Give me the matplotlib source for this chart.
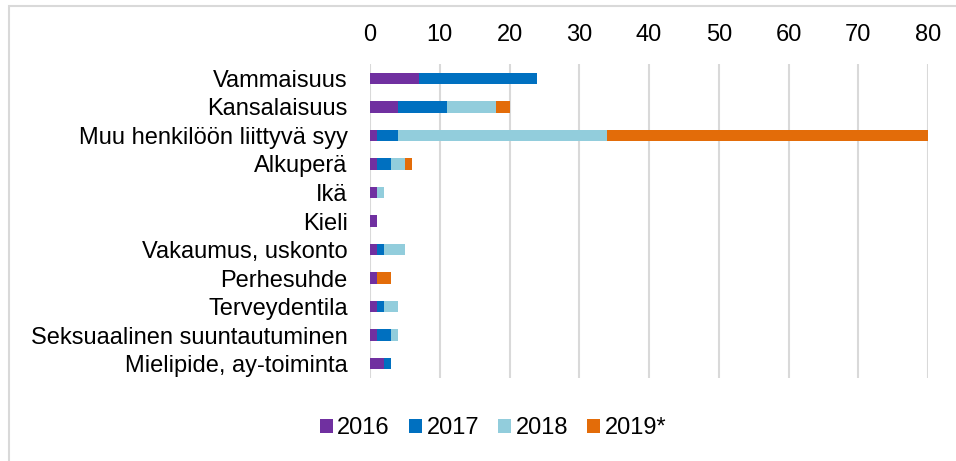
import matplotlib
matplotlib.use('Agg')
import matplotlib.pyplot as plt
from matplotlib.patches import Rectangle
import numpy as np

# Categories (top to bottom) and yearly counts
categories = ['Vammaisuus', 'Kansalaisuus', 'Muu henkilöön liittyvä syy', 'Alkuperä',
              'Ikä', 'Kieli', 'Vakaumus, uskonto', 'Perhesuhde', 'Terveydentila',
              'Seksuaalinen suuntautuminen', 'Mielipide, ay-toiminta']
years = ['2016', '2017', '2018', '2019*']
v2016 = [7, 4, 1, 1, 1, 1, 1, 1, 1, 1, 2]
v2017 = [17, 7, 3, 2, 0, 0, 1, 0, 1, 2, 1]
v2018 = [0, 7, 30, 2, 1, 0, 3, 0, 2, 1, 0]
v2019 = [0, 2, 46, 1, 0, 0, 0, 2, 0, 0, 0]
colors = ['#7030A0', '#0070C0', '#92CDDC', '#E36C09']

plt.rcParams['font.family'] = ['Liberation Sans', 'DejaVu Sans']

fig = plt.figure(figsize=(9.56, 4.61), dpi=100)
ax = fig.add_axes([370 / 956, (461 - 378) / 461, 558 / 956, 314 / 461])

y = np.arange(len(categories))
left = np.zeros(len(categories))
for vals, lab, col in zip([v2016, v2017, v2018, v2019], years, colors):
    ax.barh(y, vals, left=left, height=0.4, color=col, label=lab, zorder=3)
    left += np.array(vals)

ax.set_xlim(0, 80)
ax.set_ylim(len(categories) - 0.5, -0.5)
ax.set_xticks(range(0, 81, 10))
ax.set_yticks(y)
ax.set_yticklabels(categories)
ax.xaxis.tick_top()
ax.tick_params(axis='x', length=0, pad=13, labelsize=17)
ax.tick_params(axis='y', length=0, pad=16, labelsize=17)
ax.grid(axis='x', color='#D9D9D9', linewidth=1.5, zorder=0)
for s in ax.spines.values():
    s.set_visible(False)

ax.legend(loc='center', bbox_to_anchor=(493 / 956, 33 / 461), bbox_transform=fig.transFigure,
          ncol=4, frameon=False, fontsize=17, handlelength=0.55, handleheight=0.55,
          handletextpad=0.2, columnspacing=0.8)

# light frame around the chart area
fig.patches.append(Rectangle((9 / 956, -0.5), 1.5, 0.5 + (461 - 6) / 461,
                             transform=fig.transFigure, fill=False,
                             edgecolor='#D9D9D9', linewidth=1.5))

fig.savefig('out.png', dpi=100)
